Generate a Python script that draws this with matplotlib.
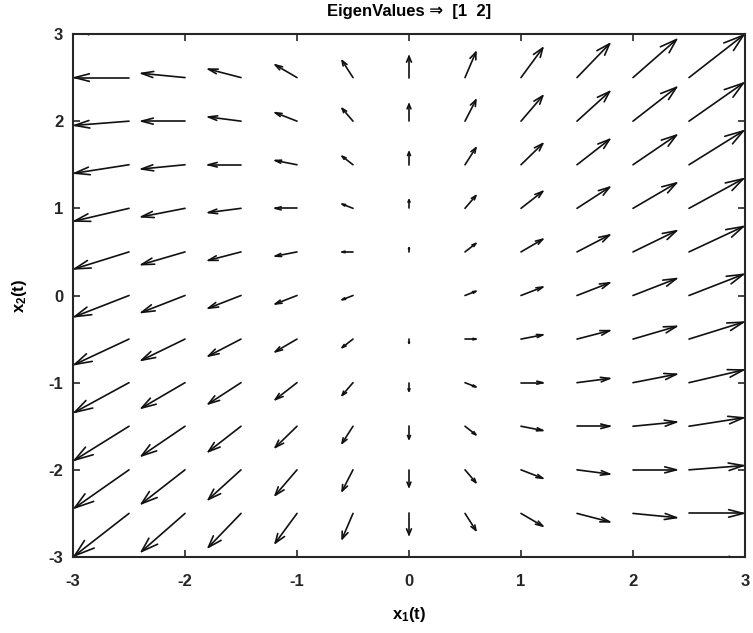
import numpy as np
import matplotlib
matplotlib.use('Agg')
import matplotlib.pyplot as plt
from matplotlib.collections import LineCollection

plt.rcParams['font.family'] = ['Liberation Sans', 'DejaVu Sans']
plt.rcParams['font.weight'] = 'bold'
plt.rcParams['axes.unicode_minus'] = False
plt.rcParams['mathtext.fontset'] = 'custom'
plt.rcParams['mathtext.rm'] = 'Liberation Sans:bold'
plt.rcParams['mathtext.bf'] = 'Liberation Sans:bold'
plt.rcParams['mathtext.default'] = 'bf'

# system matrix dx/dt = A x  (eigenvalues 1, 2)
A = [[2, 0],
     [1, 1]]
eigen_values = [1, 2]

# grid of the field
x1_grid = [-3, -2.5, -2, -1.5, -1, -0.5, 0, 0.5, 1, 1.5, 2, 2.5, 3]
x2_grid = [-3, -2.5, -2, -1.5, -1, -0.5, 0, 0.5, 1, 1.5, 2, 2.5, 3]
ticks = [-3, -2, -1, 0, 1, 2, 3]

X1, X2 = np.meshgrid(x1_grid, x2_grid)
U = A[0][0] * X1 + A[0][1] * X2
V = A[1][0] * X1 + A[1][1] * X2

# matlab style quiver: line arrows with open heads
scale = 0.097
alpha = 0.27
beta = 0.33
x0 = X1.ravel()
y0 = X2.ravel()
u = U.ravel() * scale
v = V.ravel() * scale
xe = x0 + u
ye = y0 + v
segs = []
for i in range(len(x0)):
    if u[i] == 0 and v[i] == 0:
        continue
    segs.append([(x0[i], y0[i]), (xe[i], ye[i])])
    segs.append([(xe[i] - alpha * (u[i] + beta * v[i]), ye[i] - alpha * (v[i] - beta * u[i])),
                 (xe[i], ye[i]),
                 (xe[i] - alpha * (u[i] - beta * v[i]), ye[i] - alpha * (v[i] + beta * u[i]))])

fig = plt.figure(figsize=(7.53, 6.33), dpi=100)
ax = fig.add_axes([73 / 753, 1 - 557 / 633, 672 / 753, 523 / 633])
lc = LineCollection(segs, colors='#111111', linewidths=1.2, capstyle='round', joinstyle='round')
ax.add_collection(lc)

ax.set_xlim(-3, 3)
ax.set_ylim(-3, 3)
ax.set_xticks(ticks)
ax.set_yticks(ticks)
ax.tick_params(direction='in', top=True, right=True, length=5, width=1.2,
               labelsize=12, colors='#262626', pad=12.5)
ax.tick_params(axis='y', pad=7)
for s in ax.spines.values():
    s.set_linewidth(1.5)
    s.set_color('#262626')

ax.set_title('EigenValues ⇒  [%d  %d]' % tuple(eigen_values), fontsize=12,
             fontweight='bold', pad=13)
ax.set_xlabel('x$_1$(t)', fontsize=12, fontweight='bold', labelpad=11)
ax.set_ylabel('x$_2$(t)', fontsize=12, fontweight='bold', labelpad=14)

fig.savefig('out.png', dpi=100)
